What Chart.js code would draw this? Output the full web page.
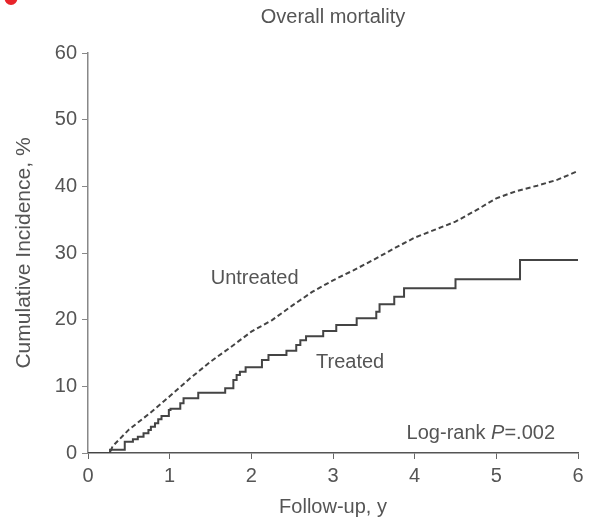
<!DOCTYPE html>
<html>
<head>
<meta charset="utf-8">
<script src="https://cdn.jsdelivr.net/npm/chart.js@4"></script>
<style>
  html, body { margin: 0; padding: 0; background: #fff; }
  #wrap { width: 600px; height: 523px; }
</style>
</head>
<body>
<div id="wrap"><canvas id="myChart" width="600" height="523"></canvas></div>
<script>
// follow-up time (years) and cumulative incidence (%) for each group
const untreatedTime = [0, 0.27, 0.3, 0.5, 0.75, 1.0, 1.25, 1.5, 1.75, 2.0, 2.25, 2.5, 2.75, 3.0, 3.25, 3.5, 3.75, 4.0, 4.25, 4.5, 4.75, 5.0, 5.25, 5.5, 5.75, 6.0];
const untreatedPct  = [0, 0, 1.0, 3.5, 5.9, 8.5, 11.2, 13.7, 15.9, 18.2, 19.9, 22.1, 24.2, 25.9, 27.4, 29.0, 30.7, 32.3, 33.5, 34.7, 36.4, 38.2, 39.3, 40.1, 41.0, 42.3];

const treatedTime = [0, 0.27, 0.45, 0.55, 0.61, 0.68, 0.74, 0.77, 0.82, 0.86, 0.9, 0.99, 1.01, 1.13, 1.17, 1.35, 1.68, 1.78, 1.82, 1.86, 1.93, 2.13, 2.21, 2.43, 2.55, 2.6, 2.67, 2.88, 3.04, 3.29, 3.53, 3.57, 3.75, 3.87, 4.5, 5.29, 6.0];
const treatedPct  = [0, 0.5, 1.7, 2.05, 2.45, 2.95, 3.45, 3.95, 4.45, 5.05, 5.55, 6.45, 6.65, 7.45, 8.2, 9.05, 9.7, 10.95, 11.7, 12.2, 12.85, 13.95, 14.7, 15.35, 16.2, 16.9, 17.5, 18.3, 19.2, 20.2, 21.2, 22.3, 23.45, 24.7, 26.05, 28.95, 28.95];

const xTicks = [0, 1, 2, 3, 4, 5, 6];
const yTicks = [0, 10, 20, 30, 40, 50, 60];

const FONT = '"Liberation Sans", Arial, sans-serif';
const TEXT = '#555';

const toXY = (xs, ys) => xs.map((x, i) => ({ x: x, y: ys[i] }));

// labels, title and the small red corner mark
const notes = {
  id: 'notes',
  afterDraw(chart) {
    const { ctx, scales: { x, y } } = chart;
    ctx.save();
    ctx.fillStyle = '#e8242a';
    ctx.beginPath();
    ctx.ellipse(11, -2, 6.5, 7, 0, 0, Math.PI * 2);
    ctx.fill();

    ctx.fillStyle = TEXT;
    ctx.textAlign = 'center';
    ctx.textBaseline = 'middle';
    ctx.font = '20px ' + FONT;
    ctx.fillText('Overall mortality', 333, 17);

    ctx.fillText('Untreated', x.getPixelForValue(2.04), y.getPixelForValue(26.2));
    ctx.fillText('Treated', x.getPixelForValue(3.21), y.getPixelForValue(13.6));

    // Log-rank P=.002 with italic P
    const parts = [['Log-rank ', '20px '], ['P', 'italic 20px '], ['=.002', '20px ']];
    let total = 0;
    parts.forEach(p => { ctx.font = p[1] + FONT; total += ctx.measureText(p[0]).width; });
    let cx = x.getPixelForValue(4.81) - total / 2;
    const cy = y.getPixelForValue(2.9);
    ctx.textAlign = 'left';
    parts.forEach(p => {
      ctx.font = p[1] + FONT;
      ctx.fillText(p[0], cx, cy);
      cx += ctx.measureText(p[0]).width;
    });
    ctx.restore();
  }
};

new Chart(document.getElementById('myChart'), {
  type: 'line',
  data: {
    datasets: [
      {
        label: 'Untreated',
        data: toXY(untreatedTime, untreatedPct),
        borderColor: '#444',
        borderWidth: 2,
        borderDash: [5, 3],
        pointRadius: 0,
        tension: 0
      },
      {
        label: 'Treated',
        data: toXY(treatedTime, treatedPct),
        borderColor: '#444',
        borderWidth: 2,
        stepped: true,
        pointRadius: 0
      }
    ]
  },
  options: {
    responsive: false,
    animation: false,
    layout: { padding: { top: 53, right: 22, left: 0, bottom: 0 } },
    plugins: {
      legend: { display: false },
      tooltip: { enabled: false }
    },
    scales: {
      x: {
        type: 'linear',
        min: 0,
        max: 6,
        afterFit: s => { s.height = 70; },
        afterBuildTicks: s => { s.ticks = xTicks.map(v => ({ value: v })); },
        grid: { drawOnChartArea: false, drawTicks: true, tickLength: 6, color: '#666' },
        border: { display: true, color: '#555', width: 1.5 },
        ticks: { color: TEXT, font: { family: FONT, size: 20 }, padding: 5 },
        title: {
          display: true,
          text: 'Follow-up, y',
          color: TEXT,
          font: { family: FONT, size: 20 },
          padding: { top: 4, bottom: 4 }
        }
      },
      y: {
        min: 0,
        max: 60,
        afterFit: s => { s.width = 88; },
        afterBuildTicks: s => { s.ticks = yTicks.map(v => ({ value: v })); },
        grid: { drawOnChartArea: false, drawTicks: true, tickLength: 6, color: '#888' },
        border: { display: true, color: '#888', width: 1.5 },
        ticks: { color: TEXT, font: { family: FONT, size: 20 }, padding: 5 },
        title: {
          display: true,
          text: 'Cumulative Incidence, %',
          color: TEXT,
          font: { family: FONT, size: 21 },
          padding: { top: 12, bottom: 12 }
        }
      }
    }
  },
  plugins: [notes]
});
</script>
</body>
</html>
